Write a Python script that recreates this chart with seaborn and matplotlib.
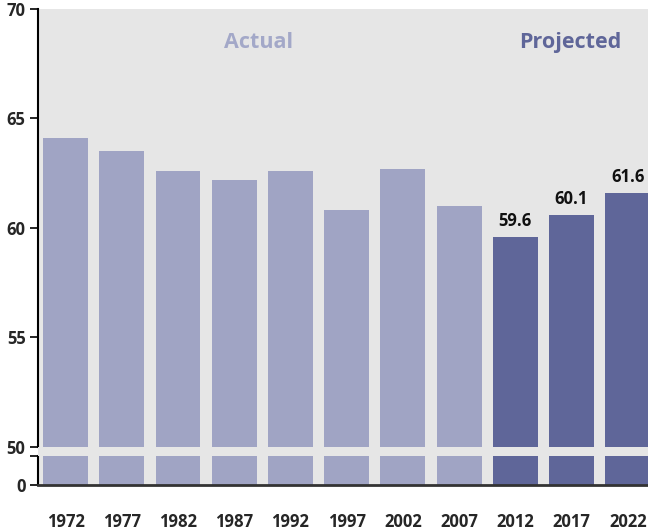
import seaborn as sns
import numpy as np
import pandas as pd
from matplotlib import pyplot as plt
from matplotlib.patches import Rectangle

years = ['1972', '1977', '1982', '1987', '1992', '1997', '2002', '2007', '2012', '2017', '2022']
# bar heights as drawn in the source (the 2017 bar sits higher than its 60.1 label)
values = [64.1, 63.5, 62.6, 62.2, 62.6, 60.8, 62.7, 61.0, 59.6, 60.6, 61.6]
status = ['Actual'] * 8 + ['Projected'] * 3
value_labels = {'2012': '59.6', '2017': '60.1', '2022': '61.6'}

light = '#a0a4c4'
dark = '#5f6699'
bg = '#e6e6e6'

df = pd.DataFrame({'year': years, 'value': values, 'status': status})

sns.set_style('white')
plt.rcParams['font.family'] = ['Open Sans', 'DejaVu Sans']
plt.rcParams['font.weight'] = 'bold'

W, H = 648, 531
fig = plt.figure(figsize=(W / 100, H / 100), dpi=100)

left = 38 / W
ax = fig.add_axes([left, (H - 447) / H, 1 - left, (447 - 9) / H])
ax_lo = fig.add_axes([left, (H - 485) / H, 1 - left, (485 - 456) / H])

for a in (ax, ax_lo):
    sns.barplot(data=df, x='year', y='value', hue='status', palette={'Actual': light, 'Projected': dark},
                dodge=False, width=0.8, legend=False, ax=a, saturation=1, linewidth=0, zorder=2)
    a.set_facecolor(bg)
    a.set_xlim(-0.49, 10.36)
    a.set_xlabel('')
    a.set_ylabel('')
    for s in ['top', 'right']:
        a.spines[s].set_visible(False)
    a.spines['left'].set_color('black')
    a.spines['left'].set_linewidth(1.5)
    a.tick_params(axis='y', left=True, length=6, width=1.2, color='black', labelsize=12, pad=3)

ax.set_ylim(50, 70)
ax.set_yticks([50, 55, 60, 65, 70])
ax.set_yticklabels(['50', '55', '60', '65', '70'], fontweight='bold')
ax.spines['bottom'].set_visible(False)
ax.set_xticks([])

for i, (y, v) in enumerate(zip(years, values)):
    if y in value_labels:
        ax.text(i, v + 0.3, value_labels[y], ha='center', va='bottom', fontsize=12, fontweight='bold', color='#111111')

ax.text(3.44, 68.45, 'Actual', ha='center', va='center', fontsize=15.5, fontweight='bold', color='#a3a8c8')
ax.text(8.98, 68.45, 'Projected', ha='center', va='center', fontsize=15.5, fontweight='bold', color=dark)

ax_lo.set_ylim(0, 50)
ax_lo.set_yticks([0, 50])
ax_lo.set_yticklabels(['0', ''], fontweight='bold')
ax_lo.spines['bottom'].set_color('#333333')
ax_lo.spines['bottom'].set_linewidth(2)
ax_lo.tick_params(axis='x', bottom=False, labelsize=12, pad=17)
for t in ax_lo.get_xticklabels():
    t.set_fontweight('bold')

# break band
fig.patches.append(Rectangle((left, (H - 456) / H), 1 - left, 9 / H, transform=fig.transFigure,
                             facecolor=bg, edgecolor='none', zorder=5))

plt.savefig('out.png', dpi=100)
